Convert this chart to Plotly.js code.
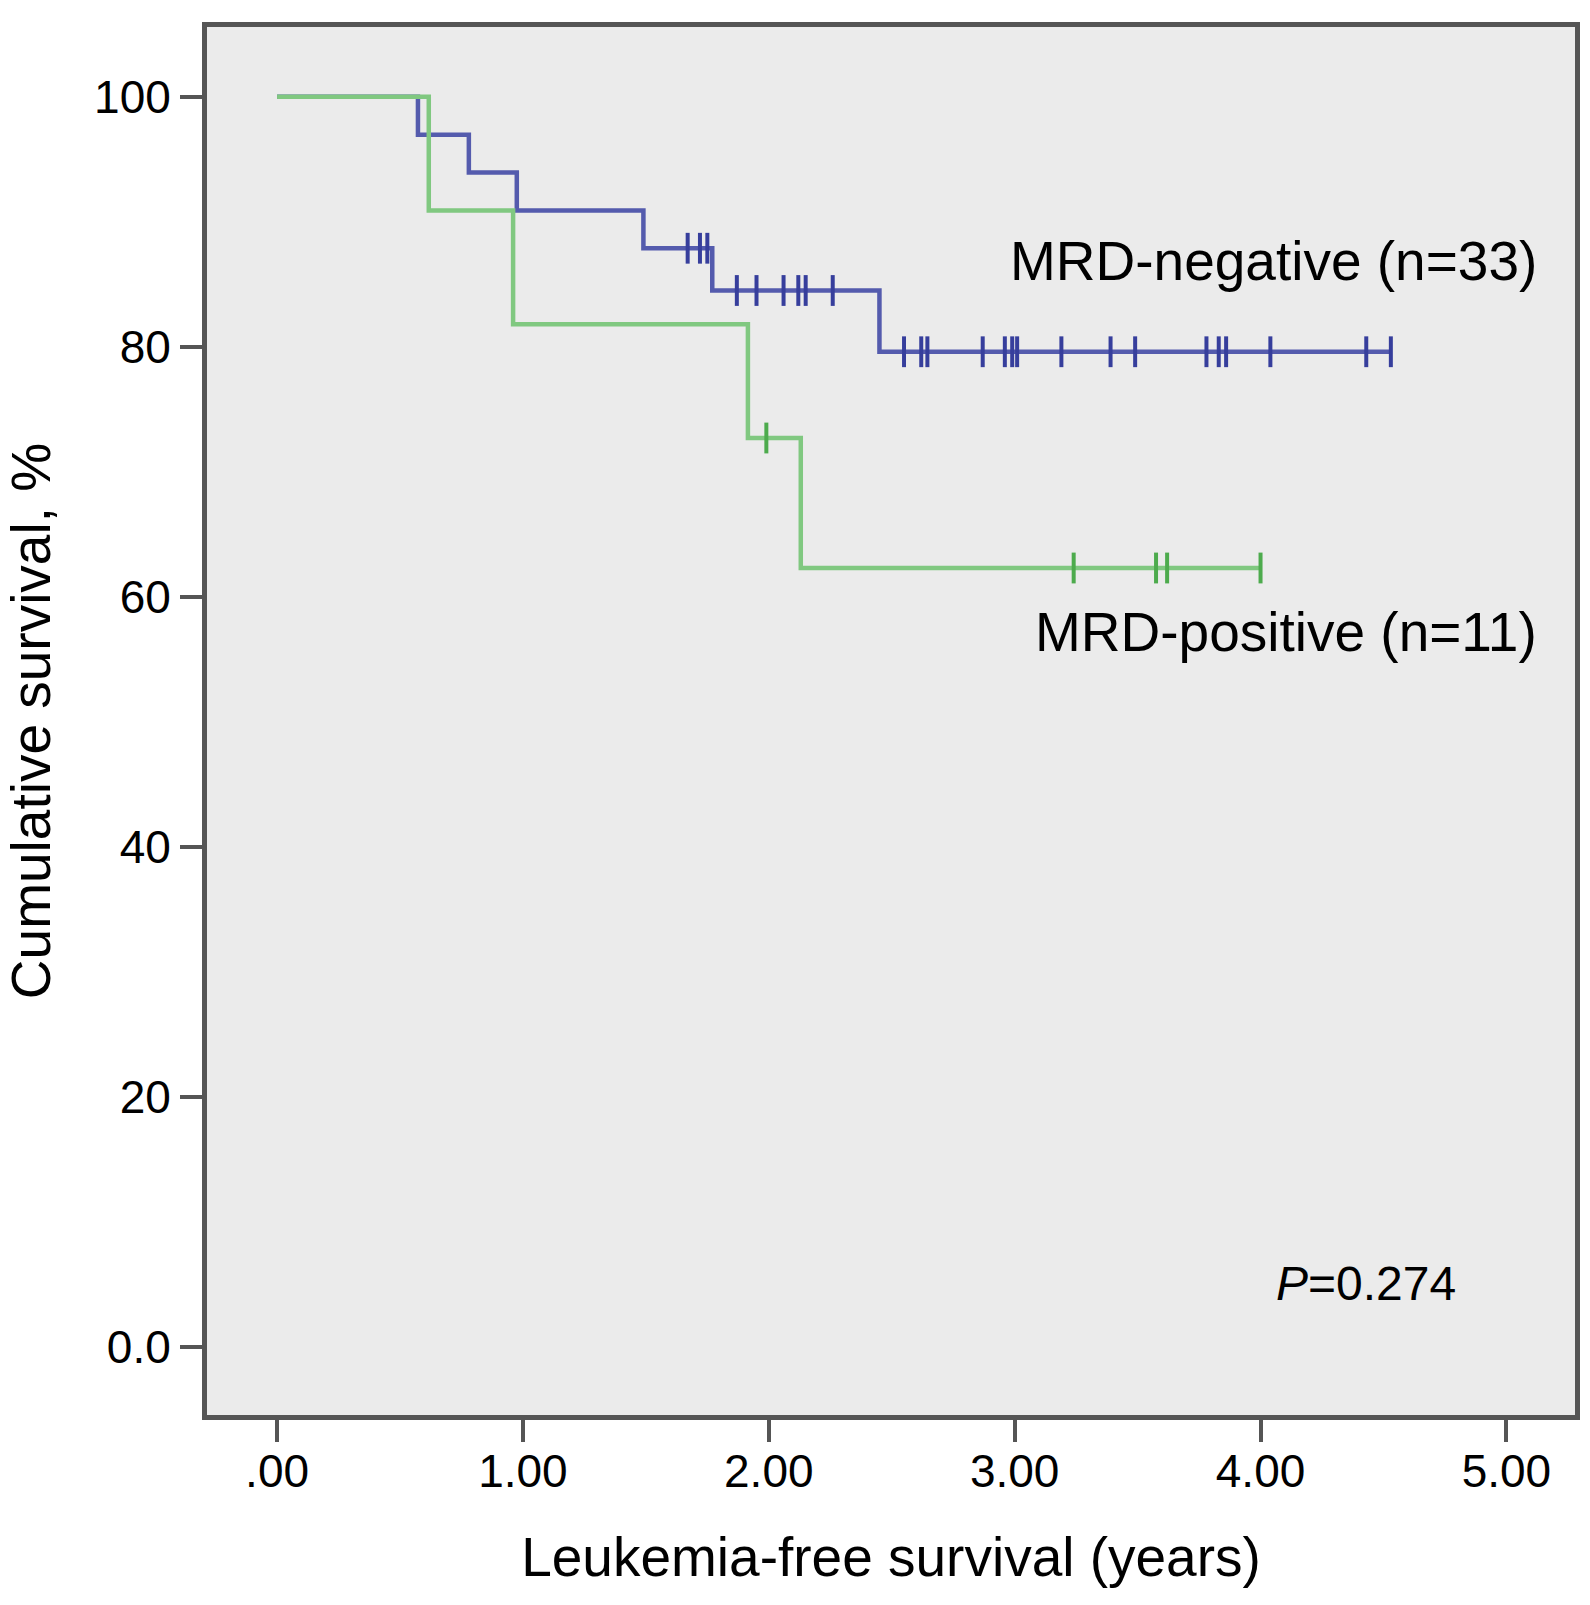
<!DOCTYPE html>
<html>
<head>
<meta charset="utf-8">
<script src="https://cdn.plot.ly/plotly-3.0.1.min.js"></script>
<style>
  html, body { margin: 0; padding: 0; background: #ffffff; }
  #km { width: 1590px; height: 1605px; }
</style>
</head>
<body>
<div id="km"></div>
<script>
// MRD-negative (n=33): event times (years) and survival level after each step
var negEventTimes = [0.573, 0.78, 0.975, 1.49, 1.77, 2.45];
var negLevels = [100, 96.97, 93.94, 90.91, 87.88, 84.5, 79.6];
var negCensorTimes = [1.67, 1.72, 1.75,
                      1.87, 1.95, 2.06, 2.12, 2.15, 2.26,
                      2.55, 2.62, 2.645, 2.87, 2.96, 2.99, 3.01, 3.19, 3.39, 3.49,
                      3.78, 3.83, 3.86, 4.04, 4.43, 4.53];
var negEnd = 4.53;

// MRD-positive (n=11)
var posEventTimes = [0.617, 0.96, 1.915, 2.13];
var posLevels = [100, 90.9, 81.8, 72.7, 62.3];
var posCensorTimes = [1.99, 3.24, 3.575, 3.62, 4.0];
var posEnd = 4.0;

var xTickVals = [0, 1, 2, 3, 4, 5];
var xTickText = ['.00', '1.00', '2.00', '3.00', '4.00', '5.00'];
var yTickVals = [0, 20, 40, 60, 80, 100];
var yTickText = ['0.0', '20', '40', '60', '80', '100'];

// build step curve points from event times
function stepCurve(times, levels, end) {
  var x = [0], y = [levels[0]];
  for (var i = 0; i < times.length; i++) {
    x.push(times[i]);
    y.push(levels[i + 1]);
  }
  x.push(end);
  y.push(levels[levels.length - 1]);
  return {x: x, y: y};
}

// survival level of the curve at time t
function levelAt(times, levels, t) {
  var lv = levels[0];
  for (var i = 0; i < times.length; i++) {
    if (t >= times[i]) lv = levels[i + 1];
  }
  return lv;
}

var negCurve = stepCurve(negEventTimes, negLevels, negEnd);
var posCurve = stepCurve(posEventTimes, posLevels, posEnd);

var negCensorY = negCensorTimes.map(function(t) { return levelAt(negEventTimes, negLevels, t); });
var posCensorY = posCensorTimes.map(function(t) { return levelAt(posEventTimes, posLevels, t); });

var font = '"Liberation Sans", Arial, Helvetica, sans-serif';

var trace1 = {
  x: negCurve.x, y: negCurve.y,
  mode: 'lines', type: 'scatter',
  line: {shape: 'hv', color: '#545bad', width: 4.5},
  name: 'MRD-negative', hoverinfo: 'skip'
};
var trace2 = {
  x: negCensorTimes, y: negCensorY,
  mode: 'markers', type: 'scatter',
  marker: {symbol: 'line-ns', size: 22, line: {color: '#363e9c', width: 4}},
  name: 'MRD-negative censored'
};
var trace3 = {
  x: posCurve.x, y: posCurve.y,
  mode: 'lines', type: 'scatter',
  line: {shape: 'hv', color: '#80c880', width: 4.5},
  name: 'MRD-positive', hoverinfo: 'skip'
};
var trace4 = {
  x: posCensorTimes, y: posCensorY,
  mode: 'markers', type: 'scatter',
  marker: {symbol: 'line-ns', size: 22, line: {color: '#4dab4d', width: 4}},
  name: 'MRD-positive censored'
};

var data = [trace1, trace2, trace3, trace4];

var layout = {
  width: 1590, height: 1605,
  margin: {l: 207, r: 15, t: 27, b: 190},
  paper_bgcolor: '#ffffff',
  plot_bgcolor: '#ebebeb',
  showlegend: false,
  font: {family: font, color: '#000000'},
  xaxis: {
    range: [-0.285, 5.279],
    tickvals: xTickVals, ticktext: xTickText,
    ticks: 'outside', ticklen: 22, tickwidth: 4, tickcolor: '#555555',
    tickfont: {size: 46, family: font},
    ticklabelstandoff: -10,
    showgrid: false, zeroline: false,
    showline: true, linecolor: '#555555', linewidth: 5, mirror: true,
    title: {text: 'Leukemia-free survival (years)', font: {size: 55, family: font}, standoff: 43}
  },
  yaxis: {
    range: [-5.46, 105.58],
    tickvals: yTickVals, ticktext: yTickText,
    ticks: 'outside', ticklen: 22, tickwidth: 4, tickcolor: '#555555',
    tickfont: {size: 46, family: font},
    ticklabelstandoff: 0,
    showgrid: false, zeroline: false,
    showline: true, linecolor: '#555555', linewidth: 5, mirror: true,
    title: {text: 'Cumulative survival, %', font: {size: 55, family: font}, standoff: 42}
  },
  annotations: [
    {x: 5.132, y: 86.9, xref: 'x', yref: 'y', xanchor: 'right', yanchor: 'middle',
     text: 'MRD-negative (n=33)', showarrow: false, font: {size: 55, family: font}},
    {x: 5.132, y: 57.15, xref: 'x', yref: 'y', xanchor: 'right', yanchor: 'middle',
     text: 'MRD-positive (n=11)', showarrow: false, font: {size: 55, family: font}},
    {x: 4.43, y: 5.1, xref: 'x', yref: 'y', xanchor: 'center', yanchor: 'middle',
     text: '<i>P</i>=0.274', showarrow: false, font: {size: 48, family: font}}
  ]
};

Plotly.newPlot('km', data, layout, {staticPlot: true});
</script>
</body>
</html>
